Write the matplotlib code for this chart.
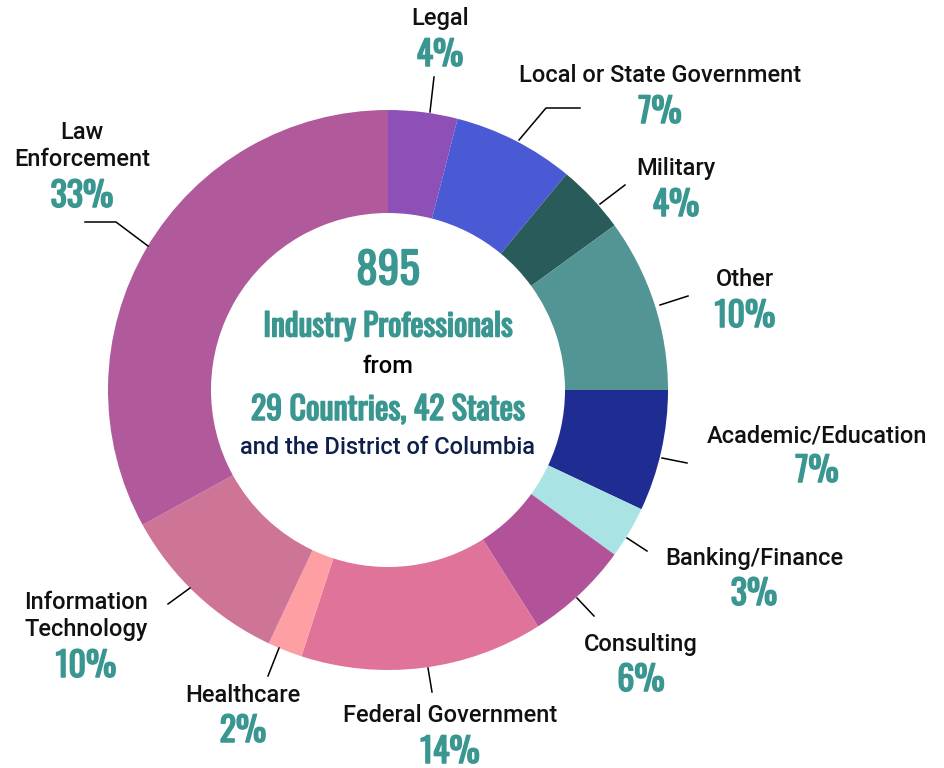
import matplotlib
matplotlib.use("Agg")
import matplotlib.pyplot as plt
import matplotlib.patheffects as pe

# shares of the 895 respondents, clockwise from 12 o'clock
labels = ["Legal", "Local or State Government", "Military", "Other",
          "Academic/Education", "Banking/Finance", "Consulting",
          "Federal Government", "Healthcare", "Information\nTechnology",
          "Law\nEnforcement"]
shares = [4, 7, 4, 10, 7, 3, 6, 14, 2, 10, 33]
colors = ["#8e4fb6", "#4a5ad4", "#2a5b5b", "#529594", "#1f2c92", "#aae3e3",
          "#b25299", "#df7399", "#fe9fa3", "#cd7497", "#b05a9c"]

TEAL = "#3a9690"
NARROW = ["Oswald", "Roboto Condensed", "DejaVu Sans"]
BOLDER = [pe.withStroke(linewidth=1.1, foreground=TEAL)]
W, H = 945, 768

def py(y):  # pixel row -> data y
    return H - y

fig = plt.figure(figsize=(9.45, 7.68), dpi=100)
ax = fig.add_axes([0, 0, 1, 1])

cx, cy, R = 388, py(390), 280
ax.pie(shares, colors=colors, startangle=90, counterclock=False,
       center=(cx, cy), radius=R, frame=True,
       wedgeprops=dict(width=R - 177, linewidth=0))
ax.set_xlim(0, W)
ax.set_ylim(0, H)
ax.set_aspect("equal")
ax.axis("off")

# label text center, percent text center, leader line points (pixels)
label_pos = [(440, 19), (660, 76), (676, 169), (745, 280), (817, 436),
             (754, 558), (641, 644), (450, 716), (243, 695), (86, 616),
             (82, 146)]
pct_pos = [(440, 55), (660, 112), (676, 205), (745, 316), (817, 471),
           (754, 594), (641, 680), (450, 752), (243, 731), (86, 666),
           (82, 196)]
leaders = [[(430, 112), (434, 77)],
           [(519, 140), (546, 108), (580, 108)],
           [(600, 204), (625, 185)],
           [(660, 305), (688, 296)],
           [(662, 458), (687, 463)],
           [(627, 538), (647, 551)],
           [(577, 598), (594, 616)],
           [(428, 668), (432, 692)],
           [(279, 648), (268, 676)],
           [(168, 604), (190, 588)],
           [(148, 246), (116, 222), (85, 222)]]

for lab, s, lp, pp, ln in zip(labels, shares, label_pos, pct_pos, leaders):
    ax.text(lp[0], py(lp[1]), lab, ha="center", va="center", fontsize=17,
            family="Roboto", fontweight="medium", color="#111111",
            linespacing=1.2)
    ax.text(pp[0], py(pp[1]), f"{s}%", ha="center", va="center",
            fontsize=24.5, family=NARROW, color=TEAL, path_effects=BOLDER)
    ax.plot([p[0] for p in ln], [py(p[1]) for p in ln], color="black", lw=1.1)

# centre text
ax.text(388, py(271), "895", ha="center", va="center", fontsize=31,
        family=NARROW, color=TEAL, path_effects=BOLDER)
ax.text(388, py(327), "Industry Professionals", ha="center", va="center",
        fontsize=22.5, family=NARROW, color=TEAL, path_effects=BOLDER)
ax.text(388, py(367), "from", ha="center", va="center", fontsize=17,
        family="Roboto", fontweight="medium", color="black")
ax.text(388, py(410), "29 Countries, 42 States", ha="center", va="center",
        fontsize=23, family=NARROW, color=TEAL, path_effects=BOLDER)
ax.text(388, py(448), "and the District of Columbia", ha="center",
        va="center", fontsize=17, family="Roboto", fontweight="medium",
        color="#0d1f4a")

fig.savefig("out.png", dpi=100)
